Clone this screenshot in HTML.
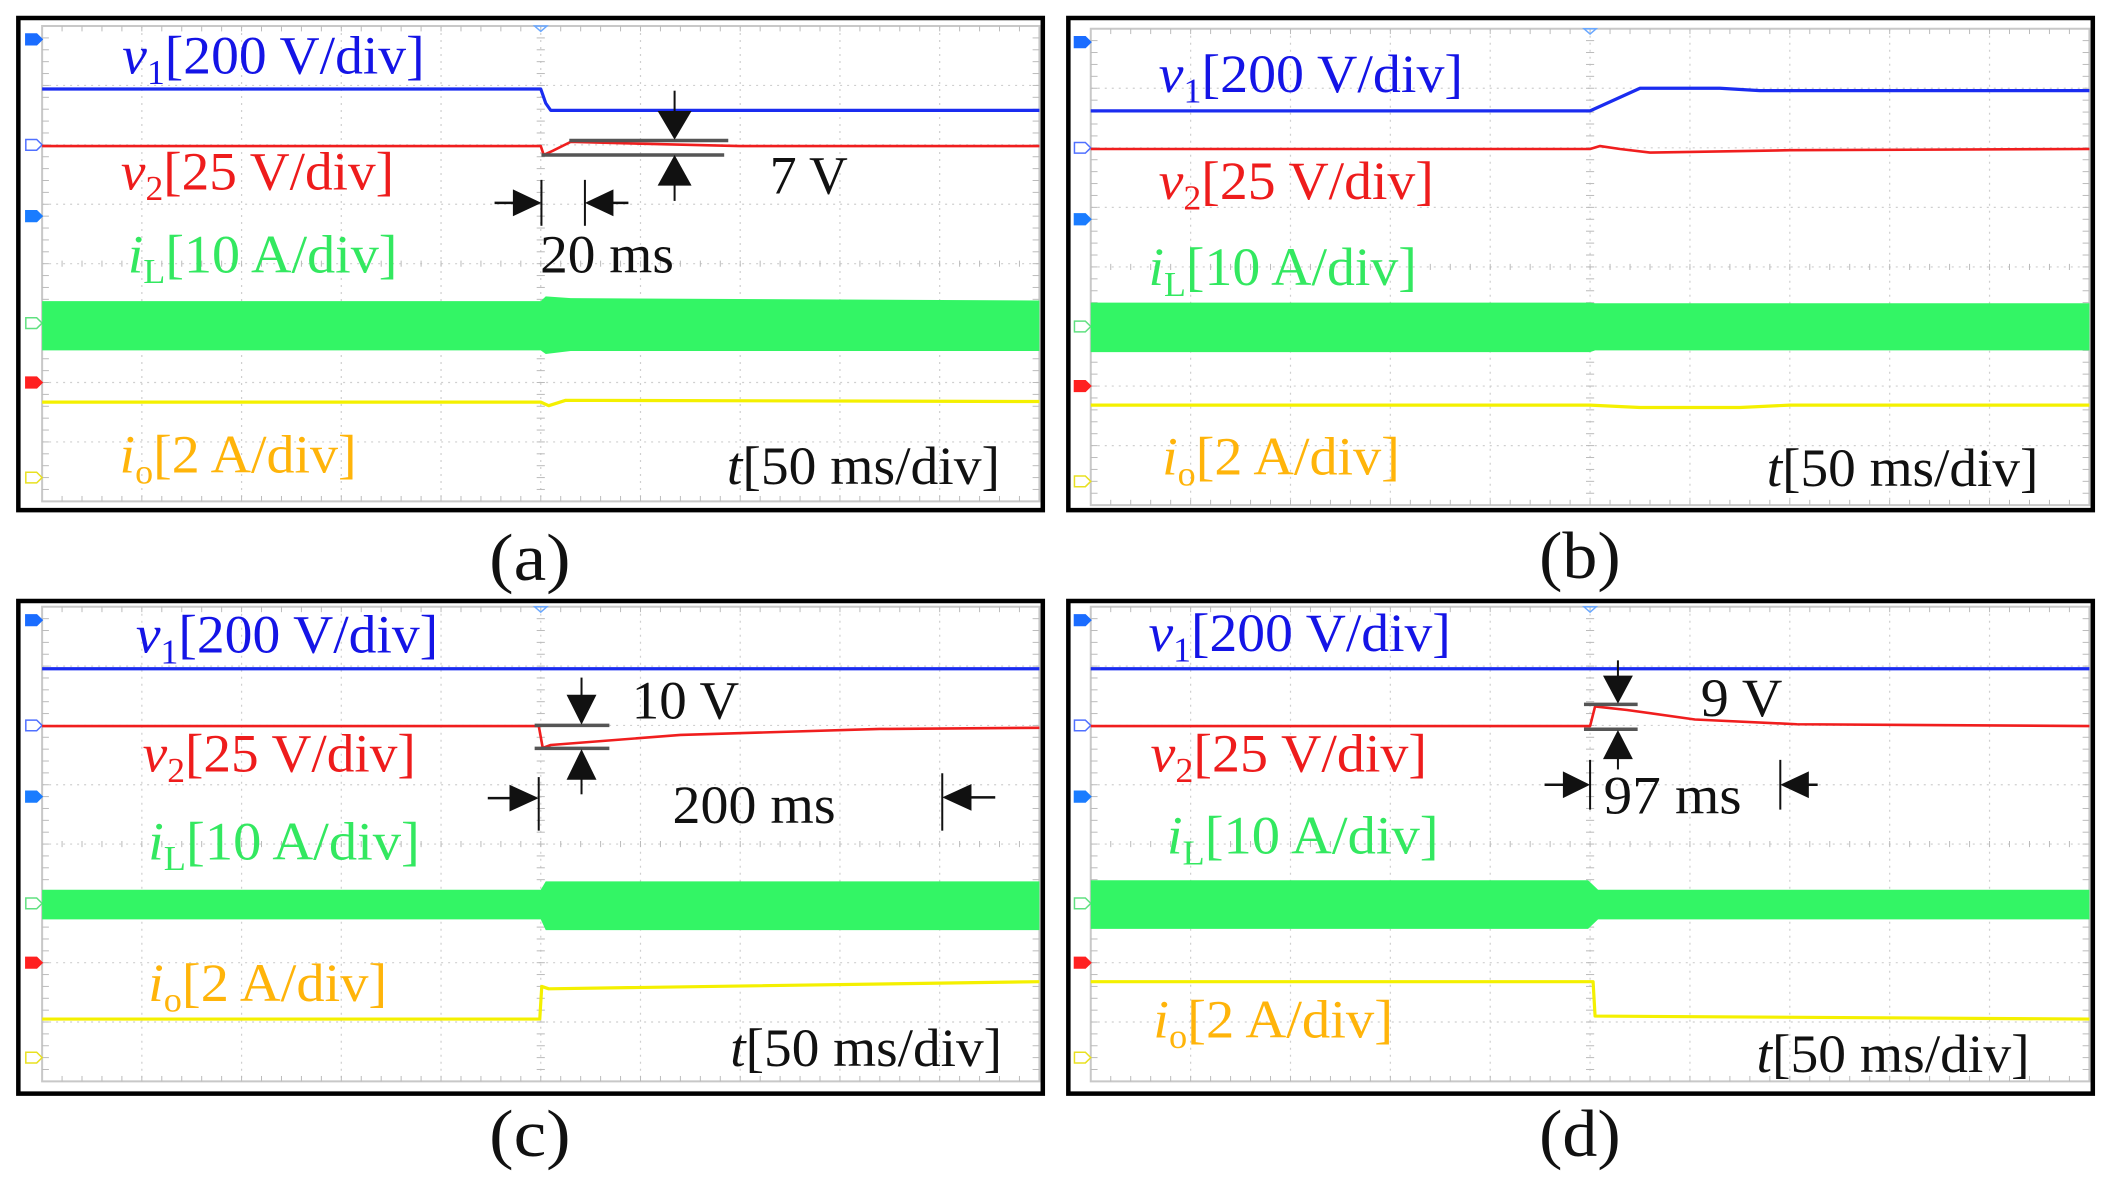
<!DOCTYPE html>
<html><head><meta charset="utf-8"><style>
html,body{margin:0;padding:0;background:#fff;}
svg{display:block;font-family:"Liberation Serif",serif;}
</style></head><body>
<svg id="fig" width="2109" height="1179" viewBox="0 0 2109 1179" xmlns="http://www.w3.org/2000/svg">
<rect width="2109" height="1179" fill="#fff"/>

<!-- Panel A -->
<g id="pa" transform="translate(0,0) scale(0.67935,0.38270)">
 <g class="grid"></g><g class="traces"></g>
 <rect x="27" y="47" width="1508" height="1286" fill="none" stroke="#000" stroke-width="4.5" vector-effect="non-scaling-stroke"/>
 <text x="180" y="192" font-size="140" textLength="445" lengthAdjust="spacingAndGlyphs" fill="#1414e6"><tspan font-style="italic">v</tspan><tspan font-size="90" dy="28">1</tspan><tspan dy="-28">[200 V/div]</tspan></text>
 <text x="178" y="495" font-size="140" textLength="402" lengthAdjust="spacingAndGlyphs" fill="#ee1c1c"><tspan font-style="italic">v</tspan><tspan font-size="90" dy="28">2</tspan><tspan dy="-28">[25 V/div]</tspan></text>
 <text x="188" y="712" font-size="140" textLength="397" lengthAdjust="spacingAndGlyphs" fill="#33e860"><tspan font-style="italic">i</tspan><tspan font-size="90" dy="28">L</tspan><tspan dy="-28">[10 A/div]</tspan></text>
 <text x="176" y="1235" font-size="140" textLength="349" lengthAdjust="spacingAndGlyphs" fill="#ffb40a"><tspan font-style="italic">i</tspan><tspan font-size="90" dy="28">o</tspan><tspan dy="-28">[2 A/div]</tspan></text>
 <text x="1070" y="1265" font-size="140" textLength="402" lengthAdjust="spacingAndGlyphs" fill="#111"><tspan font-style="italic">t</tspan>[50 ms/div]</text>
 <text x="1133" y="505" font-size="140" textLength="115" lengthAdjust="spacingAndGlyphs" fill="#111">7 V</text>
 <text x="795" y="712" font-size="140" textLength="197" lengthAdjust="spacingAndGlyphs" fill="#111">20 ms</text>
 <text x="780" y="1515" font-size="175" text-anchor="middle" textLength="120" lengthAdjust="spacingAndGlyphs" fill="#111">(a)</text>
 <g class="annot" fill="#111" stroke="#111">
  <line x1="838" y1="367" x2="1072" y2="367" stroke="#555" stroke-width="3.5" vector-effect="non-scaling-stroke"/>
  <line x1="797" y1="405" x2="1066" y2="405" stroke="#555" stroke-width="3.5" vector-effect="non-scaling-stroke"/>
  <line x1="993" y1="237" x2="993" y2="300" stroke-width="2" vector-effect="non-scaling-stroke"/>
  <polygon points="968,290 1018,290 993,365" stroke="none"/>
  <line x1="993" y1="480" x2="993" y2="525" stroke-width="2" vector-effect="non-scaling-stroke"/>
  <polygon points="968,485 1018,485 993,405" stroke="none"/>
  <line x1="797" y1="470" x2="797" y2="590" stroke-width="2" vector-effect="non-scaling-stroke"/>
  <line x1="861" y1="470" x2="861" y2="590" stroke-width="2" vector-effect="non-scaling-stroke"/>
  <line x1="728" y1="530" x2="760" y2="530" stroke-width="2.5" vector-effect="non-scaling-stroke"/>
  <polygon points="755,495 755,565 797,530" stroke="none"/>
  <line x1="895" y1="530" x2="925" y2="530" stroke-width="2.5" vector-effect="non-scaling-stroke"/>
  <polygon points="903,495 903,565 861,530" stroke="none"/>
 </g>
</g>

<!-- Panel B -->
<g id="pb" transform="translate(1050,0) scale(0.67935,0.38270)">
 <g class="grid"></g><g class="traces"></g>
 <rect x="27" y="47" width="1508" height="1286" fill="none" stroke="#000" stroke-width="4.5" vector-effect="non-scaling-stroke"/>
 <text x="160" y="240" font-size="140" textLength="448" lengthAdjust="spacingAndGlyphs" fill="#1414e6"><tspan font-style="italic">v</tspan><tspan font-size="90" dy="28">1</tspan><tspan dy="-28">[200 V/div]</tspan></text>
 <text x="160" y="520" font-size="140" textLength="405" lengthAdjust="spacingAndGlyphs" fill="#ee1c1c"><tspan font-style="italic">v</tspan><tspan font-size="90" dy="28">2</tspan><tspan dy="-28">[25 V/div]</tspan></text>
 <text x="145" y="745" font-size="140" textLength="395" lengthAdjust="spacingAndGlyphs" fill="#33e860"><tspan font-style="italic">i</tspan><tspan font-size="90" dy="28">L</tspan><tspan dy="-28">[10 A/div]</tspan></text>
 <text x="165" y="1240" font-size="140" textLength="350" lengthAdjust="spacingAndGlyphs" fill="#ffb40a"><tspan font-style="italic">i</tspan><tspan font-size="90" dy="28">o</tspan><tspan dy="-28">[2 A/div]</tspan></text>
 <text x="1055" y="1270" font-size="140" textLength="400" lengthAdjust="spacingAndGlyphs" fill="#111"><tspan font-style="italic">t</tspan>[50 ms/div]</text>
 <text x="780" y="1510" font-size="175" text-anchor="middle" textLength="120" lengthAdjust="spacingAndGlyphs" fill="#111">(b)</text>
</g>

<!-- Panel C -->
<g id="pc" transform="translate(0,580) scale(0.67935,0.38270)">
 <g class="grid"></g><g class="traces"></g>
 <rect x="27" y="55" width="1508" height="1287" fill="none" stroke="#000" stroke-width="4.5" vector-effect="non-scaling-stroke"/>
 <text x="200" y="190" font-size="140" textLength="445" lengthAdjust="spacingAndGlyphs" fill="#1414e6"><tspan font-style="italic">v</tspan><tspan font-size="90" dy="28">1</tspan><tspan dy="-28">[200 V/div]</tspan></text>
 <text x="210" y="500" font-size="140" textLength="402" lengthAdjust="spacingAndGlyphs" fill="#ee1c1c"><tspan font-style="italic">v</tspan><tspan font-size="90" dy="28">2</tspan><tspan dy="-28">[25 V/div]</tspan></text>
 <text x="218" y="730" font-size="140" textLength="400" lengthAdjust="spacingAndGlyphs" fill="#33e860"><tspan font-style="italic">i</tspan><tspan font-size="90" dy="28">L</tspan><tspan dy="-28">[10 A/div]</tspan></text>
 <text x="218" y="1100" font-size="140" textLength="352" lengthAdjust="spacingAndGlyphs" fill="#ffb40a"><tspan font-style="italic">i</tspan><tspan font-size="90" dy="28">o</tspan><tspan dy="-28">[2 A/div]</tspan></text>
 <text x="1075" y="1270" font-size="140" textLength="400" lengthAdjust="spacingAndGlyphs" fill="#111"><tspan font-style="italic">t</tspan>[50 ms/div]</text>
 <text x="930" y="362" font-size="140" textLength="158" lengthAdjust="spacingAndGlyphs" fill="#111">10 V</text>
 <text x="990" y="635" font-size="140" textLength="240" lengthAdjust="spacingAndGlyphs" fill="#111">200 ms</text>
 <text x="780" y="1505" font-size="175" text-anchor="middle" textLength="120" lengthAdjust="spacingAndGlyphs" fill="#111">(c)</text>
 <g class="annot" fill="#111" stroke="#111">
  <line x1="787" y1="380" x2="897" y2="380" stroke="#555" stroke-width="3.5" vector-effect="non-scaling-stroke"/>
  <line x1="787" y1="440" x2="897" y2="440" stroke="#555" stroke-width="3.5" vector-effect="non-scaling-stroke"/>
  <line x1="856" y1="255" x2="856" y2="310" stroke-width="2" vector-effect="non-scaling-stroke"/>
  <polygon points="834,300 878,300 856,378" stroke="none"/>
  <line x1="856" y1="515" x2="856" y2="560" stroke-width="2" vector-effect="non-scaling-stroke"/>
  <polygon points="834,522 878,522 856,442" stroke="none"/>
  <line x1="793" y1="515" x2="793" y2="655" stroke-width="2" vector-effect="non-scaling-stroke"/>
  <line x1="1387" y1="505" x2="1387" y2="655" stroke-width="2" vector-effect="non-scaling-stroke"/>
  <line x1="718" y1="570" x2="755" y2="570" stroke-width="2.5" vector-effect="non-scaling-stroke"/>
  <polygon points="750,535 750,605 793,570" stroke="none"/>
  <line x1="1425" y1="568" x2="1465" y2="568" stroke-width="2.5" vector-effect="non-scaling-stroke"/>
  <polygon points="1430,533 1430,603 1387,568" stroke="none"/>
 </g>
</g>

<!-- Panel D -->
<g id="pd" transform="translate(1050,580) scale(0.67935,0.38270)">
 <g class="grid"></g><g class="traces"></g>
 <rect x="27" y="55" width="1508" height="1287" fill="none" stroke="#000" stroke-width="4.5" vector-effect="non-scaling-stroke"/>
 <text x="145" y="185" font-size="140" textLength="445" lengthAdjust="spacingAndGlyphs" fill="#1414e6"><tspan font-style="italic">v</tspan><tspan font-size="90" dy="28">1</tspan><tspan dy="-28">[200 V/div]</tspan></text>
 <text x="148" y="500" font-size="140" textLength="407" lengthAdjust="spacingAndGlyphs" fill="#ee1c1c"><tspan font-style="italic">v</tspan><tspan font-size="90" dy="28">2</tspan><tspan dy="-28">[25 V/div]</tspan></text>
 <text x="172" y="715" font-size="140" textLength="400" lengthAdjust="spacingAndGlyphs" fill="#33e860"><tspan font-style="italic">i</tspan><tspan font-size="90" dy="28">L</tspan><tspan dy="-28">[10 A/div]</tspan></text>
 <text x="152" y="1195" font-size="140" textLength="353" lengthAdjust="spacingAndGlyphs" fill="#ffb40a"><tspan font-style="italic">i</tspan><tspan font-size="90" dy="28">o</tspan><tspan dy="-28">[2 A/div]</tspan></text>
 <text x="1040" y="1285" font-size="140" textLength="402" lengthAdjust="spacingAndGlyphs" fill="#111"><tspan font-style="italic">t</tspan>[50 ms/div]</text>
 <text x="958" y="355" font-size="140" textLength="120" lengthAdjust="spacingAndGlyphs" fill="#111">9 V</text>
 <text x="815" y="610" font-size="140" textLength="203" lengthAdjust="spacingAndGlyphs" fill="#111">97 ms</text>
 <text x="780" y="1505" font-size="175" text-anchor="middle" textLength="120" lengthAdjust="spacingAndGlyphs" fill="#111">(d)</text>
 <g class="annot" fill="#111" stroke="#111">
  <line x1="786" y1="325" x2="865" y2="325" stroke="#555" stroke-width="3.5" vector-effect="non-scaling-stroke"/>
  <line x1="786" y1="390" x2="865" y2="390" stroke="#555" stroke-width="3.5" vector-effect="non-scaling-stroke"/>
  <line x1="836" y1="210" x2="836" y2="260" stroke-width="2" vector-effect="non-scaling-stroke"/>
  <polygon points="814,250 858,250 836,323" stroke="none"/>
  <line x1="836" y1="460" x2="836" y2="495" stroke-width="2" vector-effect="non-scaling-stroke"/>
  <polygon points="814,468 858,468 836,392" stroke="none"/>
  <line x1="795" y1="470" x2="795" y2="600" stroke-width="2" vector-effect="non-scaling-stroke"/>
  <line x1="1075" y1="470" x2="1075" y2="600" stroke-width="2" vector-effect="non-scaling-stroke"/>
  <line x1="728" y1="535" x2="760" y2="535" stroke-width="2.5" vector-effect="non-scaling-stroke"/>
  <polygon points="755,500 755,570 795,535" stroke="none"/>
  <line x1="1110" y1="535" x2="1130" y2="535" stroke-width="2.5" vector-effect="non-scaling-stroke"/>
  <polygon points="1117,500 1117,570 1075,535" stroke="none"/>
 </g>
</g>
</svg>
<script>
// ---- Data (time in divisions 0..10, level in divisions from top 0..8) ----
// Panel (a)
const aV1T=[0,5.0,5.05,5.1,10];            const aV1Y=[1.06,1.06,1.3,1.42,1.42];
const aV2T=[0,5.0,5.03,5.12,5.3,6.0,7.0,10]; const aV2Y=[2.02,2.02,2.17,2.1,1.95,1.98,2.02,2.02];
const aILT=[0,5.0,5.05,5.3,10];           const aILTop=[4.63,4.63,4.55,4.58,4.62]; const aILBot=[5.46,5.46,5.52,5.47,5.47];
const aIOT=[0,5.0,5.08,5.25,10];          const aIOY=[6.33,6.33,6.39,6.3,6.32];
// Panel (b)
const bV1T=[0,5.0,5.5,6.3,6.7,10];        const bV1Y=[1.38,1.38,1.0,1.0,1.04,1.04];
const bV2T=[0,5.0,5.1,5.3,5.6,6.0,7.0,10]; const bV2Y=[2.02,2.02,1.97,2.02,2.08,2.07,2.04,2.02];
const bILT=[0,5.0,5.05,10];               const bILTop=[4.6,4.6,4.61,4.61];     const bILBot=[5.43,5.43,5.4,5.4];
const bIOT=[0,5.0,5.5,6.5,7.0,10];        const bIOY=[6.32,6.32,6.36,6.36,6.32,6.32];
// Panel (c)
const cV1T=[0,10];                        const cV1Y=[1.045,1.045];
const cV2T=[0,4.98,5.02,5.1,6.4,8.4,10];  const cV2Y=[2.01,2.01,2.38,2.33,2.16,2.06,2.04];
const cILT=[0,5.0,5.05,10];               const cILTop=[4.77,4.77,4.63,4.63];   const cILBot=[5.27,5.27,5.45,5.45];
const cIOT=[0,4.99,5.01,5.08,10];         const cIOY=[6.95,6.95,6.4,6.44,6.32];
// Panel (d)
const dV1T=[0,10];                        const dV1Y=[1.045,1.045];
const dV2T=[0,5.0,5.05,5.37,6.05,7.07,10]; const dV2Y=[2.01,2.01,1.68,1.74,1.9,1.98,2.01];
const dILT=[0,4.98,5.08,10];              const dILTop=[4.61,4.61,4.77,4.77];   const dILBot=[5.43,5.43,5.27,5.27];
const dIOT=[0,5.03,5.05,10];              const dIOY=[6.32,6.32,6.9,6.95];

const panels=[
 {id:'pa',gx0:62,gx1:1530,gy0:68,gy1:1310,v1:[aV1T,aV1Y],v2:[aV2T,aV2Y],il:[aILT,aILTop,aILBot],io:[aIOT,aIOY]},
 {id:'pb',gx0:60,gx1:1530,gy0:75,gy1:1320,v1:[bV1T,bV1Y],v2:[bV2T,bV2Y],il:[bILT,bILTop,bILBot],io:[bIOT,bIOY]},
 {id:'pc',gx0:62,gx1:1530,gy0:70,gy1:1310,v1:[cV1T,cV1Y],v2:[cV2T,cV2Y],il:[cILT,cILTop,cILBot],io:[cIOT,cIOY]},
 {id:'pd',gx0:60,gx1:1530,gy0:70,gy1:1310,v1:[dV1T,dV1Y],v2:[dV2T,dV2Y],il:[dILT,dILTop,dILBot],io:[dIOT,dIOY]}
];
const NS='http://www.w3.org/2000/svg';
function mk(tag,attrs){const e=document.createElementNS(NS,tag);for(const k in attrs)e.setAttribute(k,attrs[k]);return e;}
panels.forEach(p=>{
 const xs=t=>p.gx0+t*(p.gx1-p.gx0)/10;
 const ys=d=>p.gy0+d*(p.gy1-p.gy0)/8;
 const root=document.getElementById(p.id);
 const grid=root.querySelector('.grid');
 
 
 grid.appendChild(mk('rect',{x:p.gx0,y:p.gy0,width:p.gx1-p.gx0,height:p.gy1-p.gy0,fill:'none',stroke:'#c8c8c8','stroke-width':2,'vector-effect':'non-scaling-stroke'}));
 for(let i=1;i<10;i++){const l=mk('line',{x1:xs(i),y1:p.gy0,x2:xs(i),y2:p.gy1,stroke:'#cfcfcf','stroke-width':1.2,'stroke-dasharray':'2 5','vector-effect':'non-scaling-stroke'});
  
  
  grid.appendChild(l);}
 for(let j=1;j<8;j++){const l=mk('line',{x1:p.gx0,y1:ys(j),x2:p.gx1,y2:ys(j),stroke:'#cfcfcf','stroke-width':1.2,'stroke-dasharray':'2 5','vector-effect':'non-scaling-stroke'});
  
  
  grid.appendChild(l);}
 // minor ticks on center axes and edges
 for(let k=1;k<50;k++){const x=xs(k/5);
  [[ys(4)-8,ys(4)+8],[p.gy0,p.gy0+14],[p.gy1-14,p.gy1]].forEach(([a,b])=>grid.appendChild(mk('line',{x1:x,y1:a,x2:x,y2:b,stroke:'#bbb','stroke-width':1,'vector-effect':'non-scaling-stroke'})));}
 for(let k=1;k<40;k++){const y=ys(k/5);
  [[xs(5)-6,xs(5)+6],[p.gx0,p.gx0+10],[p.gx1-10,p.gx1]].forEach(([a,b])=>grid.appendChild(mk('line',{x1:a,y1:y,x2:b,y2:y,stroke:'#bbb','stroke-width':1,'vector-effect':'non-scaling-stroke'})));}
 // trigger marker & channel markers
 grid.appendChild(mk('polygon',{points:`${xs(5)-9},${p.gy0} ${xs(5)+9},${p.gy0} ${xs(5)},${p.gy0+14}`,fill:'none',stroke:'#6aa8ff','stroke-width':1.5,'vector-effect':'non-scaling-stroke'}));
 [[p.gy0+35,'#1a6cff',1],[ys(2),'#5070ff',0],[ys(3.2),'#1a7cff',1],[ys(5),'#60e080',0],[ys(6),'#ff2020',1],[ys(7.6),'#e8e020',0]].forEach(([y,c,f])=>{
  grid.appendChild(mk('polygon',{points:`${p.gx0-24},${y-14} ${p.gx0-8},${y-14} ${p.gx0},${y} ${p.gx0-8},${y+14} ${p.gx0-24},${y+14}`,fill:f?c:'#fff',stroke:c,'stroke-width':1.5,'vector-effect':'non-scaling-stroke'}));});
 const tr=root.querySelector('.traces');
 
 
 const [it,itop,ibot]=p.il;
 let pts=it.map((t,i)=>xs(t)+','+ys(itop[i]));
 for(let i=it.length-1;i>=0;i--)pts.push(xs(it[i])+','+ys(ibot[i]));
 const band=mk('polygon',{points:pts.join(' '),fill:'#33f565'});
 
 
 tr.appendChild(band);
 const line=(arr,col,w,name)=>{const [T,Y]=arr;const pl=mk('polyline',{points:T.map((t,i)=>xs(t)+','+ys(Y[i])).join(' '),fill:'none',stroke:col,'stroke-width':w,'stroke-linejoin':'round','vector-effect':'non-scaling-stroke'});
  
  
  tr.appendChild(pl);};
 line(p.v1,'#1a2cf0',3.2,'v1-trace');
 line(p.v2,'#f01e1e',2.6,'v2-trace');
 line(p.io,'#f4f000',3.2,'io-trace');
});
</script>
</body></html>
